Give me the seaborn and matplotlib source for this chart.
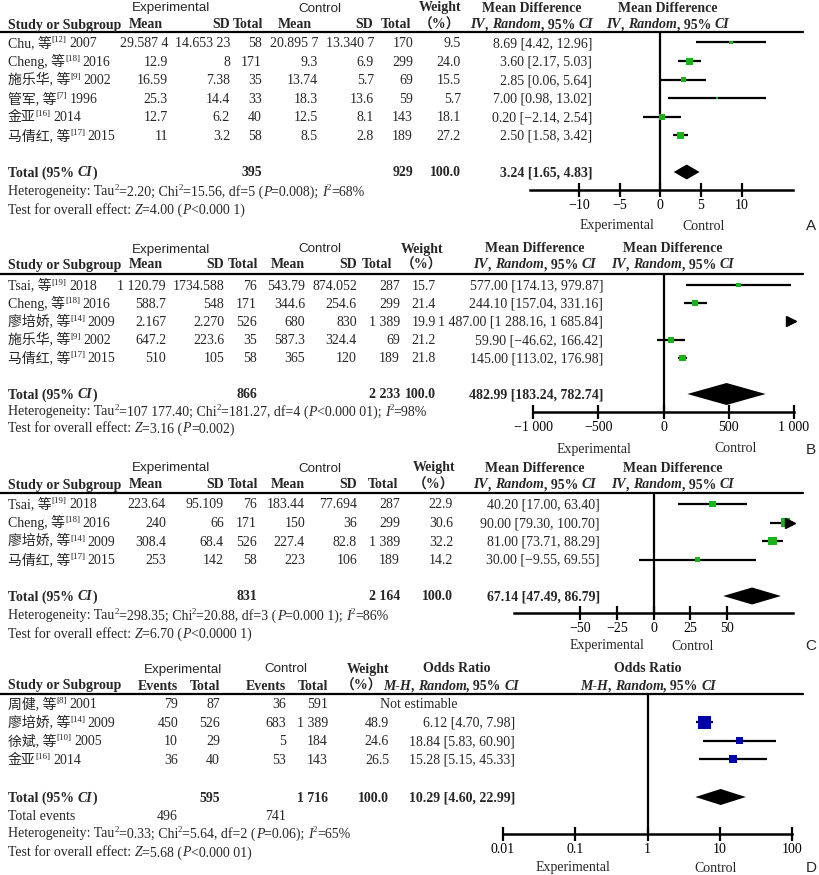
import numpy as np
import pandas as pd
import seaborn as sns
import matplotlib.pyplot as plt
from matplotlib.font_manager import FontProperties
from matplotlib.transforms import blended_transform_factory

"""
Data read off the four forest plots
"""
# A
a_study = ['Chu, 等', 'Cheng, 等', '施乐华, 等', '管军, 等', '金亚', '马倩红, 等']
a_ref = ['12', '18', '9', '7', '16', '17']
a_year = ['2007', '2016', '2002', '1996', '2014', '2015']
a_exp_mean = ['29.587 4', '12.9', '16.59', '25.3', '12.7', '11']
a_exp_sd = ['14.653 23', '8', '7.38', '14.4', '6.2', '3.2']
a_exp_n = [58, 171, 35, 33, 40, 58]
a_ctl_mean = ['20.895 7', '9.3', '13.74', '18.3', '12.5', '8.5']
a_ctl_sd = ['13.340 7', '6.9', '5.7', '13.6', '8.1', '2.8']
a_ctl_n = [170, 299, 69, 59, 143, 189]
a_weight = [9.5, 24.0, 15.5, 5.7, 18.1, 27.2]
a_md = [8.69, 3.60, 2.85, 7.00, 0.20, 2.50]
a_lo = [4.42, 2.17, 0.06, 0.98, -2.14, 1.58]
a_hi = [12.96, 5.03, 5.64, 13.02, 2.54, 3.42]
a_total = (3.24, 1.65, 4.83)
a_het = ('2.20', '15.56', '5', '=0.008', '68')
a_test = ('4.00', '<0.000 1')
a_ticks = [-10, -5, 0, 5, 10]
a_ticklabels = ['−10', '−5', '0', '5', '10']

# B
b_study = ['Tsai, 等', 'Cheng, 等', '廖培娇, 等', '施乐华, 等', '马倩红, 等']
b_ref = ['19', '18', '14', '9', '17']
b_year = ['2018', '2016', '2009', '2002', '2015']
b_exp_mean = ['1 120.79', '588.7', '2.167', '647.2', '510']
b_exp_sd = ['1734.588', '548', '2.270', '223.6', '105']
b_exp_n = [76, 171, 526, 35, 58]
b_ctl_mean = ['543.79', '344.6', '680', '587.3', '365']
b_ctl_sd = ['874.052', '254.6', '830', '324.4', '120']
b_ctl_n = [287, 299, 1389, 69, 189]
b_weight = [15.7, 21.4, 19.9, 21.2, 21.8]
b_md = [577.00, 244.10, 1487.00, 59.90, 145.00]
b_lo = [174.13, 157.04, 1288.16, -46.62, 113.02]
b_hi = [979.87, 331.16, 1685.84, 166.42, 176.98]
b_total = (482.99, 183.24, 782.74)
b_het = ('107 177.40', '181.27', '4', '<0.000 01', '98')
b_test = ('3.16', '=0.002')
b_ticks = [-1000, -500, 0, 500, 1000]
b_ticklabels = ['−1 000', '−500', '0', '500', '1 000']

# C
c_study = ['Tsai, 等', 'Cheng, 等', '廖培娇, 等', '马倩红, 等']
c_ref = ['19', '18', '14', '17']
c_year = ['2018', '2016', '2009', '2015']
c_exp_mean = ['223.64', '240', '308.4', '253']
c_exp_sd = ['95.109', '66', '68.4', '142']
c_exp_n = [76, 171, 526, 58]
c_ctl_mean = ['183.44', '150', '227.4', '223']
c_ctl_sd = ['77.694', '36', '82.8', '106']
c_ctl_n = [287, 299, 1389, 189]
c_weight = [22.9, 30.6, 32.2, 14.2]
c_md = [40.20, 90.00, 81.00, 30.00]
c_lo = [17.00, 79.30, 73.71, -9.55]
c_hi = [63.40, 100.70, 88.29, 69.55]
c_total = (67.14, 47.49, 86.79)
c_het = ('298.35', '20.88', '3', '=0.000 1', '86')
c_test = ('6.70', '<0.0000 1')
c_ticks = [-50, -25, 0, 25, 50]
c_ticklabels = ['−50', '−25', '0', '25', '50']

# D
d_study = ['周健, 等', '廖培娇, 等', '徐斌, 等', '金亚']
d_ref = ['8', '14', '10', '16']
d_year = ['2001', '2009', '2005', '2014']
d_exp_ev = [79, 450, 10, 36]
d_exp_n = [87, 526, 29, 40]
d_ctl_ev = [36, 683, 5, 53]
d_ctl_n = [591, 1389, 184, 143]
d_weight = [np.nan, 48.9, 24.6, 26.5]
d_or = [np.nan, 6.12, 18.84, 15.28]
d_lo = [np.nan, 4.70, 5.83, 5.15]
d_hi = [np.nan, 7.98, 60.90, 45.33]
d_total = (10.29, 4.60, 22.99)
d_events = (496, 741)
d_het = ('0.33', '5.64', '2', '=0.06', '65')
d_test = ('5.68', '<0.000 01')
d_ticks = [0.01, 0.1, 1, 10, 100]
d_ticklabels = ['0.01', '0.1', '1', '10', '100']


"""
Style helpers
"""
sns.set_theme(style='white')
SERIF = ['Liberation Serif', 'Noto Sans CJK SC']
SANS = ['Liberation Sans', 'DejaVu Sans']
plt.rcParams['font.family'] = SERIF
GREEN = '#19b219'
BLUE = '#0000a8'
W, H = 819, 875

fig = plt.figure(figsize=(W / 100, H / 100), dpi=100)
ax0 = fig.add_axes([0, 0, 1, 1])
ax0.set_xlim(0, W)
ax0.set_ylim(H, 0)
ax0.axis('off')
rend = fig.canvas.get_renderer()

BD = {'weight': 'bold'}
IT = {'style': 'italic'}
BI = {'weight': 'bold', 'style': 'italic'}
SUP = {'sup': True}
SS = {'family': SANS}


def fprops(st, size):
    return FontProperties(family=st.get('family', SERIF), weight=st.get('weight', 'normal'),
                          style=st.get('style', 'normal'),
                          size=size * (0.65 if st.get('sup') else 1))


def tw(s, fp):
    # width measured between sentinels so edge spaces count
    w1 = rend.get_text_width_height_descent('x' + s + 'x', fp, False)[0]
    w0 = rend.get_text_width_height_descent('xx', fp, False)[0]
    return w1 - w0


def rich(x, y, pieces, ha='left', size=10):
    items = []
    for p in pieces:
        txt, st = (p, {}) if isinstance(p, str) else p
        fp = fprops(st, st.get('size', size))
        items.append((txt, st, fp, tw(txt, fp) + st.get('dx', 0)))
    total = sum(i[3] for i in items)
    cx = x - {'left': 0, 'center': total / 2, 'right': total}[ha]
    for txt, st, fp, w in items:
        ax0.text(cx + st.get('dx', 0), y + 4.5 - (5 if st.get('sup') else 0), txt,
                 fontproperties=fp, ha='left', va='baseline')
        cx += w


def fmt(v):
    s = f'{abs(v):,.2f}'.replace(',', ' ')
    return ('−' if v < 0 else '') + s


def ci_text(e, l, h):
    return f'{fmt(e)} [{fmt(l)}, {fmt(h)}]'


def num(n):
    return f'{n:,}'.replace(',', ' ')


def forest(L, est, lo, hi, w, tot, color, ticks, ticklabels, xlim, log=False):
    x0, x1, yt, yb = L['plot']
    ax = fig.add_axes([x0 / W, 1 - yb / H, (x1 - x0) / W, (yb - yt) / H])
    ax.patch.set_alpha(0)
    ys = [L['row0'] + L['dy'] * i for i in range(len(est))]
    df = pd.DataFrame({'est': est, 'lo': lo, 'hi': hi, 'w': w, 'y': ys}).dropna()
    if log:
        ax.set_xscale('log')
    vis = df[df['lo'] < xlim[1]]
    ax.hlines(vis['y'], np.maximum(vis['lo'], xlim[0]), np.minimum(vis['hi'], xlim[1]),
              color='black', lw=1.6, zorder=2)
    side = 0.25 * df['w'] + 0.8
    smin, smax = (side.min() * 0.72) ** 2, (side.max() * 0.72) ** 2
    sns.scatterplot(data=df, x='est', y='y', size='w', sizes=(smin, smax),
                    size_norm=(df['w'].min(), df['w'].max()), marker='s', color=color,
                    linewidth=0, legend=False, ax=ax, zorder=3)
    over = df[df['hi'] > xlim[1]]
    tr = blended_transform_factory(ax.transAxes, ax.transData)
    ax.plot([0.99] * len(over), over['y'], marker='>', ls='none', ms=6.5,
            color='black', transform=tr, clip_on=False, zorder=4)
    e, l, h = tot
    ty = L['total']
    ax.fill([l, e, h, e], [ty, ty - L['dh'] / 2, ty, ty + L['dh'] / 2], color='black', lw=0, zorder=3)
    ax.axvline(1 if log else 0, color='black', lw=1.6, zorder=1)
    ax.set_xlim(xlim)
    ax.set_ylim(yb, yt)
    ax.set_xlabel('')
    ax.set_ylabel('')
    ax.set_yticks([])
    ax.xaxis.set_minor_locator(plt.NullLocator())
    ax.set_xticks(ticks)
    ax.set_xticklabels(ticklabels, fontsize=10, family=SERIF)
    ax.tick_params(axis='x', bottom=True, direction='inout', length=10, width=1.6,
                   pad=1.5, colors='black')
    for s in ['top', 'left', 'right']:
        ax.spines[s].set_visible(False)
    ax.spines['bottom'].set_color('black')
    ax.spines['bottom'].set_linewidth(1.8)
    ax.grid(False)
    rich(L['lab'][0], L['lab_y'], ['Experimental'], 'center')
    rich(L['lab'][1], L['lab_y'], ['Control'], 'center')
    rich(811, L['lab_y'] + 1, [(L['letter'], SS)], 'center', size=11)


def footer(L, het, test):
    tau, chi, dfv, p, i2 = het
    rich(8, L['het'], ['Heterogeneity: Tau', ('2', SUP), f'={tau}; Chi', ('2', SUP),
                       f'={chi}, df={dfv} (', ('P', IT), f'{p}); ', ('I', IT), ('2', SUP),
                       f'={i2}%'])
    z, pz = test
    rich(8, L['test'], ['Test for overall effect: ', ('Z', IT), f'={z} (', ('P', IT), f'{pz})'])


def names(L, study, ref, year):
    for i, (s, r, yr) in enumerate(zip(study, ref, year)):
        rich(8, L['row0'] + L['dy'] * i, [s, (f'[{r}]', SUP), (yr, {'dx': 2.5})])


def md_panel(L, study, ref, year, e_mean, e_sd, e_n, c_mean, c_sd, c_n, weight, md, lo, hi,
             tot, het, test, ticks, ticklabels, xlim):
    h1, h2 = L['h1'], L['h2']
    rich(L['exp_c'], h1, [('Experimental', SS)], 'center', size=9.6)
    rich(L['ctl_c'], h1, [('Control', SS)], 'center', size=9.6)
    rich(L['wt_c'], h1, [('Weight', BD)], 'center')
    rich(L['est_c'], h1, [('Mean Difference', BD)], 'center')
    rich(L['plot_c'], h1, [('Mean Difference', BD)], 'center')
    rich(8, h2, [('Study or Subgroup', BD)])
    hx = L['hdr']
    rich(hx[0], h2, [('Mean', BD)], 'center')
    rich(hx[1], h2, [('SD', BD)], 'right')
    rich(hx[2], h2, [('Total', BD)], 'right')
    rich(hx[3], h2, [('Mean', BD)], 'center')
    rich(hx[4], h2, [('SD', BD)], 'right')
    rich(hx[5], h2, [('Total', BD)], 'right')
    rich(L['wt_c'], h2, [('（%）', BD)], 'center')
    iv = [('IV', BI), (', ', BD), ('Random', BI), (', 95% ', BD), ('CI', BI)]
    rich(L['est_c'], h2, iv, 'center')
    rich(L['plot_c'], h2, iv, 'center')
    ax0.plot([0, 803], [L['line']] * 2, color='black', lw=1.6)

    names(L, study, ref, year)
    cx = L['cols']
    for i in range(len(study)):
        y = L['row0'] + L['dy'] * i
        vals = [e_mean[i], e_sd[i], num(e_n[i]), c_mean[i], c_sd[i], num(c_n[i]),
                f'{weight[i]:.1f}', ci_text(md[i], lo[i], hi[i])]
        for x, v in zip(cx, vals):
            rich(x, y, [v], 'right')
    ty = L['total']
    rich(8, ty, [('Total (95% ', BD), ('CI', BI), (')', BD)])
    rich(cx[2], ty, [(num(sum(e_n)), BD)], 'right')
    rich(cx[5], ty, [(num(sum(c_n)), BD)], 'right')
    rich(cx[6], ty, [('100.0', BD)], 'right')
    rich(cx[7], ty, [(ci_text(*tot), BD)], 'right')
    footer(L, het, test)
    forest(L, md, lo, hi, weight, tot, GREEN, ticks, ticklabels, xlim)


"""
Layout (pixel positions)
"""
LA = dict(h1=7, h2=24, line=32, row0=42.5, dy=18.6, total=172, het=191, test=209,
          exp_c=171, ctl_c=320, wt_c=440, est_c=532, plot_c=668,
          hdr=[146, 230, 263, 295, 373, 411],
          cols=[168, 230, 262, 318, 374, 413, 461, 592],
          plot=(530, 793, 32, 190), dh=15, lab=(617, 704), lab_y=225, letter='A')
LB = dict(h1=248, h2=264, line=274, row0=285, dy=18.2, total=394, het=411, test=428,
          exp_c=171, ctl_c=320, wt_c=422, est_c=535, plot_c=673,
          hdr=[146, 224, 258, 288, 357, 392],
          cols=[166, 224, 257, 305, 357, 400, 436, 603],
          plot=(533, 794, 274, 412), dh=22, lab=(594, 736), lab_y=448, letter='B')
LC = dict(h1=467, h2=484, line=493, row0=504, dy=18.5, total=596, het=615, test=633,
          exp_c=171, ctl_c=320, wt_c=434, est_c=535, plot_c=673,
          hdr=[146, 224, 258, 288, 357, 398],
          cols=[166, 224, 257, 305, 357, 400, 453, 600],
          plot=(514, 793, 493, 613), dh=17, lab=(607, 693), lab_y=645, letter='C')
LD = dict(h1=668, h2=685, line=694, row0=704, dy=18.4, total=797, events=815, het=833, test=852,
          plot=(503, 792, 694, 834), dh=16, lab=(573, 716), lab_y=867, letter='D')

md_panel(LA, a_study, a_ref, a_year, a_exp_mean, a_exp_sd, a_exp_n, a_ctl_mean, a_ctl_sd,
         a_ctl_n, a_weight, a_md, a_lo, a_hi, a_total, a_het, a_test, a_ticks, a_ticklabels,
         (-16, 16.3))
md_panel(LB, b_study, b_ref, b_year, b_exp_mean, b_exp_sd, b_exp_n, b_ctl_mean, b_ctl_sd,
         b_ctl_n, b_weight, b_md, b_lo, b_hi, b_total, b_het, b_test, b_ticks, b_ticklabels,
         (-1000, 1000))
md_panel(LC, c_study, c_ref, c_year, c_exp_mean, c_exp_sd, c_exp_n, c_ctl_mean, c_ctl_sd,
         c_ctl_n, c_weight, c_md, c_lo, c_hi, c_total, c_het, c_test, c_ticks, c_ticklabels,
         (-95, 95))

# D: odds ratio panel
L = LD
rich(183, L['h1'], [('Experimental', SS)], 'center', size=9.6)
rich(286, L['h1'], [('Control', SS)], 'center', size=9.6)
rich(368, L['h1'], [('Weight', BD)], 'center')
rich(457, L['h1'], [('Odds Ratio', BD)], 'center')
rich(648, L['h1'], [('Odds Ratio', BD)], 'center')
rich(8, L['h2'], [('Study or Subgroup', BD)])
for x, t in zip([178, 220, 286, 328], ['Events', 'Total', 'Events', 'Total']):
    rich(x, L['h2'], [(t, BD)], 'right')
rich(362, L['h2'], [('（%）', BD)], 'center')
mh = [('M-H', BI), (', ', BD), ('Random', BI), (', 95% ', BD), ('CI', BI)]
rich(451, L['h2'], mh, 'center')
rich(648, L['h2'], mh, 'center')
ax0.plot([0, 803], [L['line']] * 2, color='black', lw=1.6)
names(L, d_study, d_ref, d_year)
for i in range(len(d_study)):
    y = L['row0'] + L['dy'] * i
    for x, v in zip([178, 220, 286, 328], [d_exp_ev[i], d_exp_n[i], d_ctl_ev[i], d_ctl_n[i]]):
        rich(x, y, [num(v)], 'right')
    if np.isnan(d_or[i]):
        rich(380, y, ['Not estimable'])
    else:
        rich(389, y, [f'{d_weight[i]:.1f}'], 'right')
        rich(515, y, [f'{d_or[i]:.2f} [{d_lo[i]:.2f}, {d_hi[i]:.2f}]'], 'right')
# totals only count the estimable studies
est_ok = ~np.isnan(d_or)
ty = L['total']
rich(8, ty, [('Total (95% ', BD), ('CI', BI), (')', BD)])
rich(220, ty, [(num(int(np.array(d_exp_n)[est_ok].sum())), BD)], 'right')
rich(328, ty, [(num(int(np.array(d_ctl_n)[est_ok].sum())), BD)], 'right')
rich(389, ty, [('100.0', BD)], 'right')
rich(515, ty, [(f'{d_total[0]:.2f} [{d_total[1]:.2f}, {d_total[2]:.2f}]', BD)], 'right')
rich(8, L['events'], ['Total events'])
rich(178, L['events'], [num(d_events[0])], 'right')
rich(286, L['events'], [num(d_events[1])], 'right')
footer(L, d_het, d_test)
forest(L, d_or, d_lo, d_hi, d_weight, d_total, BLUE, d_ticks, d_ticklabels, (0.01, 100), log=True)

fig.savefig('out.png', dpi=100)
